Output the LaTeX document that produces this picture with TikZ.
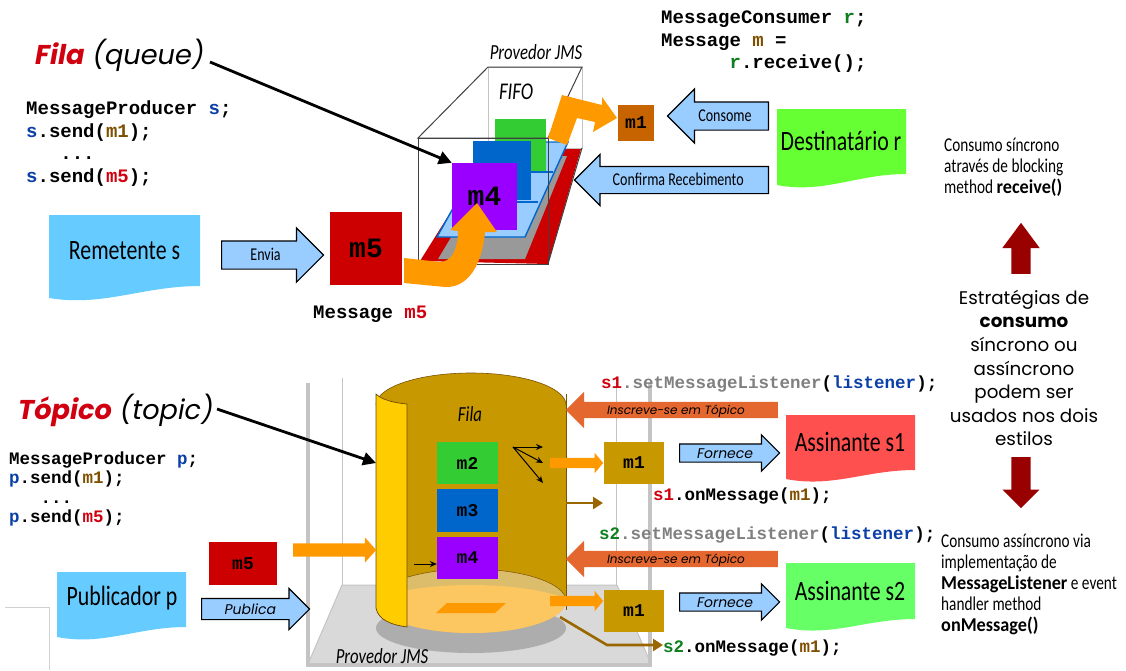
\documentclass[tikz,border=0pt]{standalone}
\usepackage{fontspec}
\setmainfont{Carlito}
\newfontfamily\gill[FakeStretch=0.78]{Carlito}
\newfontfamily\gillbold[FakeStretch=0.93]{Carlito}
\newfontfamily\gothic{Poppins}
\newfontfamily\codefont{Liberation Mono}
\usetikzlibrary{shapes.arrows,arrows.meta}
\definecolor{codeblue}{HTML}{0B3FA8}
\definecolor{codebrown}{HTML}{7F4F00}
\definecolor{codered}{HTML}{D00010}
\definecolor{codegreen}{HTML}{0F7F1F}
\definecolor{codegray}{HTML}{808080}
\definecolor{gold}{HTML}{C89800}
\definecolor{orangeA}{HTML}{FF9900}
\definecolor{arrowblue}{HTML}{99CCFF}
\definecolor{subred}{HTML}{E46730}
\definecolor{brownA}{HTML}{996600}
\definecolor{darkred}{HTML}{990000}
\definecolor{postgray}{HTML}{C4C4C4}
\definecolor{msgred}{HTML}{CC0000}
\definecolor{msggreen}{HTML}{33CC33}
\definecolor{msgblue}{HTML}{0066CC}
\definecolor{msgpurple}{HTML}{9900FF}
\definecolor{msgorange}{HTML}{C86400}
\definecolor{floorgray}{HTML}{D9D9D9}
\definecolor{tan}{HTML}{DCBD6C}
\definecolor{lightfloor}{HTML}{FCC660}
\definecolor{curtain}{HTML}{FFCC00}
\definecolor{docblue}{HTML}{66CCFF}
\definecolor{docgreen}{HTML}{66FF33}
\definecolor{docred}{HTML}{FF5050}
\definecolor{docgreenb}{HTML}{66FF66}
\newcommand{\cb}[1]{\textcolor{codeblue}{#1}}
\newcommand{\cbr}[1]{\textcolor{codebrown}{#1}}
\newcommand{\cre}[1]{\textcolor{codered}{#1}}
\newcommand{\cgr}[1]{\textcolor{codegreen}{#1}}
\newcommand{\cgy}[1]{\textcolor{codegray}{#1}}
\newcommand{\gb}[1]{{\gillbold\bfseries #1}}
\newcommand{\wavedoc}[6]{%
  \fill[#6] (#1,#2) -- (#3,#2) -- (#3,#5)
    .. controls ({#1+0.62*(#3-#1)},#5) and ({#1+0.36*(#3-#1)},{#4+9}) .. (#1,#4) -- cycle;}
\tikzset{
  code/.style={font=\codefont\bfseries\fontsize{19}{22.6}\selectfont,anchor=west,inner sep=0pt,align=left},
  codeb/.style={font=\codefont\bfseries\fontsize{17.5}{19.6}\selectfont,anchor=west,inner sep=0pt,align=left},
  msg/.style={font=\codefont\bfseries\fontsize{18}{20}\selectfont,inner sep=0pt,anchor=center},
  doclabel/.style={font=\gill\fontsize{28}{30}\selectfont,inner sep=0pt},
  blockarrow/.style={single arrow,draw=black,line width=1.2pt,fill=arrowblue,inner sep=0pt,single arrow head indent=0pt,anchor=tail},
  plainarrow/.style={single arrow,inner sep=0pt,single arrow head indent=0pt,anchor=tail},
  gothicital/.style={font=\gothic\itshape\fontsize{14}{16}\selectfont},
  gillarrow/.style={font=\gill\fontsize{18}{20}\selectfont},
  provlabel/.style={font=\gill\itshape\fontsize{21.5}{23}\selectfont,inner sep=0pt},
  title/.style={font=\gothic\itshape\fontsize{27.2}{30}\selectfont,inner sep=0pt,anchor=west},
  pointer/.style={line width=2.8pt,-{Triangle[length=13pt,width=13pt]}},
  fan/.style={line width=1pt,-{Stealth[length=7pt,width=6pt]}},
  brownarrow/.style={draw=brownA,line width=2.6pt,-{Triangle[length=10pt,width=12pt]}},
  sidetext/.style={font=\gill\fontsize{19.6}{21}\selectfont,anchor=north west,align=left,inner sep=0pt}
}
\begin{document}
\begin{tikzpicture}[x=1pt,y=-1pt]
\useasboundingbox (0,0) rectangle (1126,670);
\fill[white] (0,0) rectangle (1126,670);

% ---------- queue: provider box
\draw[postgray,line width=1pt] (488,67) rectangle (582,148);
\fill[msgred] (420,261) -- (490,149) -- (581,149) -- (548,264) -- cycle;
\fill[black!40] (438,259) -- (500,156) -- (567,156) -- (525,259) -- cycle;
\draw[draw=msgblue,fill=arrowblue,line width=1.4pt]
  (437,237) -- (490,142) -- (568,142) -- (525,237) -- cycle;
\draw[draw=msgblue,line width=1.4pt] (500,172) -- (553,172);
\draw[draw=msgblue,line width=1.4pt] (480,202) -- (538,202);
\node[fill=msggreen,minimum width=51pt,minimum height=52pt,inner sep=0pt] (m2top) at (520.5,145) {};
\node[fill=msgblue,minimum width=58pt,minimum height=59pt,inner sep=0pt] (m3top) at (502,170.5) {};
\draw[black!75,line width=1pt] (418,138) -- (488,67) -- (582,67) -- (548,138) -- cycle;
\draw[black!75,line width=1pt] (418,138) rectangle (548,264);
\draw[black!75,line width=1pt] (548,264) -- (582,148);
\node[fill=msgpurple,minimum width=65pt,minimum height=67pt,inner sep=0pt,font=\codefont\bfseries\fontsize{28}{30}\selectfont] (m4top) at (484.5,196.5) {m4};
\node[provlabel] (provtop) at (536,52) {Provedor JMS};
\node[provlabel,font=\gill\itshape\fontsize{24}{26}\selectfont] (fifo) at (516,92) {FIFO};

% orange curved arrows
\fill[orangeA] (404,258) -- (440,262) .. controls (452,262) and (458,248) .. (458,231)
  -- (450,230) -- (477,203) -- (497,232) -- (485,232)
  .. controls (482,265) and (468,288) .. (445,287) -- (404,283) -- cycle;
\fill[orangeA] (548,138) -- (562,95) -- (602,105) -- (602,97) -- (617,118) -- (593,132) -- (595,122) -- (577,118) -- (567,145) -- cycle;

% queue: messages
\node[fill=msgred,minimum width=72pt,minimum height=73pt,inner sep=0pt,font=\codefont\bfseries\fontsize{28}{30}\selectfont] (m5top) at (366,248.5) {m5};
\node[fill=msgorange,minimum size=36pt,inner sep=0pt,font=\codefont\bfseries\fontsize{18}{20}\selectfont] (m1top) at (636,123) {m1};

% queue: documents
\wavedoc{49}{215}{200}{298}{286}{docblue}
\node[doclabel] (rem) at (124.5,251) {Remetente s};
\wavedoc{777}{109}{906}{185}{174}{docgreen}
\node[doclabel] (dest) at (841,141) {Destinatário r};

% queue: block arrows
\node[blockarrow,minimum height=102pt,text height=19pt,text depth=8pt,single arrow head extend=13pt,gillarrow] (envia) at (221,255) {Envia};
\node[blockarrow,shape border rotate=180,minimum height=101pt,text height=19pt,text depth=8pt,single arrow head extend=13pt,gillarrow] (consome) at (769,116) {Consome};
\node[blockarrow,shape border rotate=180,minimum height=194pt,text height=18.5pt,text depth=7.5pt,single arrow head extend=12pt,gillarrow] (confirma) at (769,180) {Confirma Recebimento};

% queue: code
\node[code] (codeS) at (26,143.5) {MessageProducer \cb{s};\\\cb{s}.send(\cbr{m1});\\\phantom{xxx}...\\\cb{s}.send(\cre{m5});};
\node[code] (codeR) at (661,42) {MessageConsumer \cgr{r};\\Message \cbr{m} =\\\phantom{xxxxxx}\cgr{r}.receive();};
\node[code] (msgM) at (313,314.5) {Message \cre{m5}};

% queue title
\node[title] (fila) at (35,55) {\textcolor{codered}{\bfseries Fila} (queue)};
\coordinate (filaend) at (210,62);
\draw[pointer] (filaend) -- (m4top.north west);

% ---------- topic: provider frame
\draw[postgray,line width=1pt,fill=floorgray] (342,585) -- (617,585) -- (651,664) -- (308,664) -- cycle;
\draw[postgray,line width=1pt] (342,378) -- (342,585);
\draw[postgray,line width=1pt] (616,378) -- (616,585);
\draw[postgray,line width=3.5pt] (308,383) -- (308,665) -- (650,665) -- (650,383);

\fill[black!32] (471,628) ellipse [x radius=95,y radius=25];
% cylinder
\fill[gold] (471,405) ellipse [x radius=95,y radius=32];
\fill[gold] (376,405) rectangle (566,601);
\fill[tan] (471,601) ellipse [x radius=95,y radius=32];
\begin{scope}
  \clip (471,601) ellipse [x radius=95,y radius=32];
  \fill[lightfloor] (471,616) ellipse [x radius=115,y radius=31];
\end{scope}
\draw[brownA!80!black,line width=0.6pt] (376,405) arc [start angle=180,end angle=360,x radius=95,y radius=32];
\draw[brownA!80!black,line width=1pt] (566,394) -- (566,610);
\draw[brownA!80!black,line width=0.5pt] (407.4,577.2) arc [start angle=228,end angle=355,x radius=95,y radius=32];
\fill[orangeA] (447,603) -- (506,603) -- (495,613) -- (436,613) -- cycle;
\draw[brownA!70!black,line width=0.7pt,fill=curtain] (376,394) .. controls (382,400) and (395,403) .. (407,404) -- (407,627) .. controls (392,625) and (378,620) .. (376,608) -- cycle;

\node[provlabel] (filaL) at (470,414) {Fila};
\node[provlabel] (provbot) at (382,656) {Provedor JMS};

\node[msg,fill=msggreen,minimum width=61pt,minimum height=42pt] (m2) at (467.5,463) {m2};
\node[msg,fill=msgblue,minimum width=61pt,minimum height=43pt] (m3) at (467.5,510.5) {m3};
\node[msg,fill=msgpurple,minimum width=61pt,minimum height=42pt] (m4) at (467.5,558) {m4};
\node[msg,fill=gold,minimum width=60pt,minimum height=42pt] (m1a) at (634,463) {m1};
\node[msg,fill=gold,minimum width=60pt,minimum height=42pt] (m1b) at (634,611) {m1};
\node[msg,fill=msgred,minimum width=68pt,minimum height=43pt] (m5) at (243,563.5) {m5};

% fan arrows
\coordinate (fanO) at (513,447);
\coordinate (fanA) at (543,447);
\coordinate (fanB) at (543,463);
\coordinate (fanC) at (543,483);
\draw[fan] (fanO) -- (fanA);
\draw[fan] (fanO) -- (fanB);
\draw[fan] (fanO) -- (fanC);
\coordinate (m4in) at (414,564);
\draw[fan] (m4in) -- (m4.west |- m4in);

% orange arrows lower
\node[plainarrow,fill=orangeA,minimum height=53pt,text height=10pt,text depth=0pt,single arrow head extend=5pt,single arrow tip angle=100] (oa1) at (550,463) {};
\node[plainarrow,fill=orangeA,minimum height=53pt,text height=10pt,text depth=0pt,single arrow head extend=5pt,single arrow tip angle=100] (oa2) at (550,601) {};
\node[plainarrow,fill=orangeA,minimum height=83pt,text height=13pt,text depth=0pt,single arrow head extend=6pt,single arrow tip angle=96] (oa3) at (293,550) {};

% subscribe arrows
\node[plainarrow,fill=subred,shape border rotate=180,minimum height=212pt,text height=12.5pt,text depth=3.5pt,single arrow head extend=10pt,font=\gothic\itshape\fontsize{12}{14}\selectfont] (ins1) at (778,410) {Inscreve-se em Tópico};
\node[plainarrow,fill=subred,shape border rotate=180,minimum height=212pt,text height=12.5pt,text depth=3.5pt,single arrow head extend=10pt,font=\gothic\itshape\fontsize{12}{14}\selectfont] (ins2) at (778,559) {Inscreve-se em Tópico};

% brown arrows
\coordinate (brA) at (566,503);
\coordinate (brAend) at (603,503);
\draw[brownarrow] (brA) -- (brAend);
\coordinate (brB) at (560,617);
\coordinate (brBm) at (607,645);
\coordinate (brBend) at (663,645);
\draw[brownarrow] (brB) -- (brBm) -- (brBend);

% documents
\wavedoc{57}{572}{186}{637}{627}{docblue}
\node[doclabel] (pub) at (122,598) {Publicador p};
\wavedoc{786}{415}{915}{479}{470}{docred}
\node[doclabel] (s1) at (850,442) {Assinante s1};
\wavedoc{786}{563}{915}{628}{619}{docgreenb}
\node[doclabel] (s2) at (850,591) {Assinante s2};

% blue arrows lower
\node[blockarrow,minimum height=108pt,text height=15pt,text depth=5pt,single arrow head extend=10pt,gothicital] (publica) at (201,609) {Publica};
\node[blockarrow,minimum height=100pt,text height=13.5pt,text depth=3.5pt,single arrow head extend=9pt,gothicital] (forn1) at (679,453) {Fornece};
\node[blockarrow,minimum height=100pt,text height=13.5pt,text depth=3.5pt,single arrow head extend=9pt,gothicital] (forn2) at (679,602) {Fornece};

% code lower
\node[codeb] (codeP) at (9,489) {MessageProducer \cb{p};\\\cb{p}.send(\cbr{m1});\\\phantom{xxx}...\\\cb{p}.send(\cre{m5});};
\node[codeb] (set1) at (601,384.5) {\cre{s1}\cgy{.setMessageListener}(\cb{listener});};
\node[codeb] (on1) at (653,496) {\cre{s1}.onMessage(\cbr{m1});};
\node[codeb] (set2) at (599,535.5) {\cgr{s2}\cgy{.setMessageListener}(\cb{listener});};
\node[codeb] (on2) at (663,648) {\cgr{s2}.onMessage(\cbr{m1});};

% topic title
\node[title] (topico) at (18,410) {\textcolor{codered}{\bfseries Tópico} (topic)};
\coordinate (topend) at (217,409);
\coordinate (curtainin) at (376,463);
\draw[pointer] (topend) -- (curtainin);

% stray frame line
\draw[black!18,line width=0.7pt] (5,607) -- (49,607) -- (49,670);

% right column
\node[sidetext] (sideA) at (944,138) {Consumo síncrono\\através de blocking\\method \gb{receive()}};
\node[sidetext] (sideB) at (941,534) {Consumo assíncrono via\\implementação de\\\gb{MessageListener} e event\\handler method\\\gb{onMessage()}};
\node[font=\gothic\fontsize{18.3}{23.6}\selectfont,align=center,inner sep=0pt] (middle) at (1024,368) {Estratégias de\\\textbf{consumo}\\síncrono ou\\assíncrono\\podem ser\\usados nos dois\\estilos};
\node[plainarrow,fill=darkred,shape border rotate=90,minimum height=51pt,text width=19pt,single arrow head extend=9pt,single arrow tip angle=73] (upA) at (1021,274) {};
\node[plainarrow,fill=darkred,shape border rotate=270,minimum height=51pt,text width=19pt,single arrow head extend=9pt] (downA) at (1021,457) {};
\end{tikzpicture}
\end{document}
